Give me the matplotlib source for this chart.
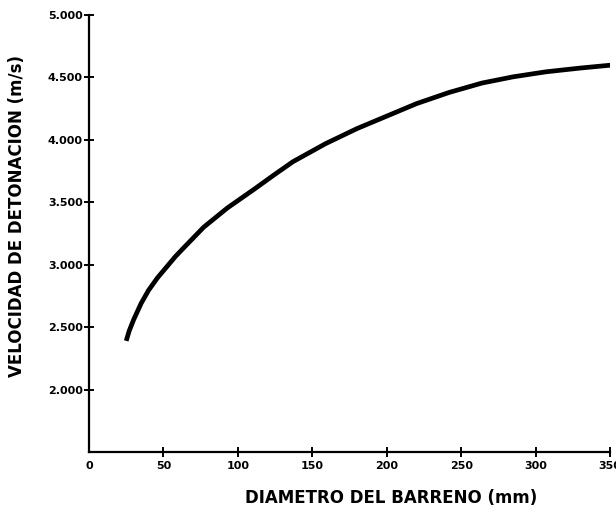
import matplotlib.pyplot as plt
from matplotlib.ticker import FuncFormatter

# diametro del barreno (mm) vs velocidad de detonacion (m/s)
diametro = [25, 27, 30, 35, 40, 46, 52, 58, 64, 77, 93, 111, 125, 137, 159, 180,
            198, 220, 242, 264, 285, 307, 330, 352]
velocidad = [2390, 2470, 2560, 2690, 2795, 2895, 2980, 3065, 3140, 3300, 3455,
             3605, 3725, 3825, 3970, 4090, 4180, 4290, 4380, 4455, 4505, 4545,
             4575, 4600]

xticks = [0, 50, 100, 150, 200, 250, 300, 350]
yticks = [2000, 2500, 3000, 3500, 4000, 4500, 5000]

fig = plt.figure(figsize=(6.16, 5.15), dpi=100)
ax = fig.add_axes([89 / 616, 1 - 452 / 515, 521 / 616, 437 / 515])

ax.plot(diametro, velocidad, color='black', lw=3.4, solid_capstyle='butt')

ax.set_xlim(0, 350)
ax.set_ylim(1500, 5000)
ax.set_xticks(xticks)
ax.set_yticks(yticks)
ax.yaxis.set_major_formatter(
    FuncFormatter(lambda v, p: '{:,.0f}'.format(v).replace(',', '.')))

for s in ['top', 'right']:
    ax.spines[s].set_visible(False)
for s in ['left', 'bottom']:
    ax.spines[s].set_linewidth(1.6)

ax.tick_params(axis='both', direction='inout', length=7, width=1.4,
               labelsize=8)
ax.tick_params(axis='y', pad=1)
ax.tick_params(axis='x', pad=3)
ax.xaxis.get_major_ticks()[0].tick1line.set_visible(False)
for lab in ax.get_xticklabels() + ax.get_yticklabels():
    lab.set_fontweight('bold')

ax.set_xlabel('DIAMETRO DEL BARRENO (mm)', fontsize=12, fontweight='bold')
ax.xaxis.set_label_coords(0.58, -0.085)
ax.set_ylabel('VELOCIDAD DE DETONACION (m/s)', fontsize=12,
              fontweight='bold')
ax.yaxis.set_label_coords(-0.12, 0.54)

fig.savefig('out.png', dpi=100)
